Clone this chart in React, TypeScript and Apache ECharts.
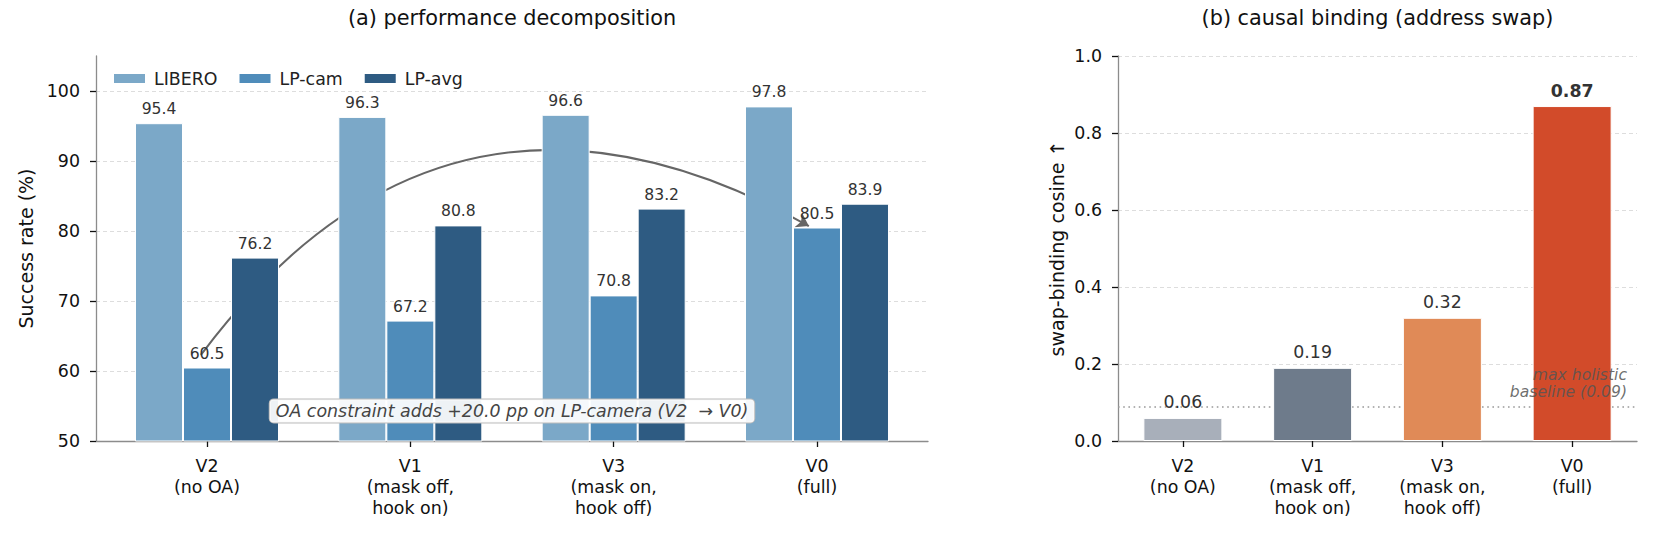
import { useEffect, useRef } from "react";
import * as echarts from "echarts";

// shared categories (same order in both panels)
const VARIANTS = ["V2\n(no OA)", "V1\n(mask off,\nhook on)", "V3\n(mask on,\nhook off)", "V0\n(full)"];
const VARIANT_POS = [0, 1, 2, 3];

// (a) success rate (%)
const LIBERO = [95.4, 96.3, 96.6, 97.8];
const LP_CAM = [60.5, 67.2, 70.8, 80.5];
const LP_AVG = [76.2, 80.8, 83.2, 83.9];
const SUCCESS_TICKS = [50, 60, 70, 80, 90, 100];

// (b) swap-binding cosine
const SWAP_COSINE = [0.06, 0.19, 0.32, 0.87];
const HOLISTIC_BASELINE = 0.09;

// annotation anchors, in panel (a) data units
const ARROW_FROM = [-0.03, 62.3];
const ARROW_TO = [2.96, 80.7];
const ARROW_CURVENESS = 0.437;
const NOTE_AT = [1.5, 54.3];
const NOTE_TEXT = "OA constraint adds +20.0 pp on LP-camera (V2\u00a0 \u2192 V0)";

const FONT = "DejaVu Sans";
const GRID_A = { left: 96, top: 56, width: 832, height: 385 };
const GRID_B = { left: 1118, top: 56, width: 519, height: 385 };
const GROUP_COLORS = ["#7BA8C8", "#4F8CBA", "#2E5B82"];
const CAUSAL_COLORS = ["#A8AFBA", "#6E7B8B", "#E08A57", "#D24B2A"];

const axisLine = { show: true, onZero: false, lineStyle: { color: "#8c8c8c", width: 1.3 } };
const tickLine = { color: "#111", width: 1.3 };
const splitLine = { show: true, lineStyle: { color: "#dddddd", type: [4, 3], width: 1 } };
const tickLabel = { fontSize: 17.4, color: "#111", fontFamily: FONT };
const axisName = { fontSize: 19, color: "#111", fontFamily: FONT };

function buildOption() {
  const groups: Array<[string, number[]]> = [
    ["LIBERO", LIBERO],
    ["LP-cam", LP_CAM],
    ["LP-avg", LP_AVG],
  ];
  const maxCos = Math.max(...SWAP_COSINE);

  return {
    animation: false,
    textStyle: { fontFamily: FONT },
    grid: [
      { ...GRID_A, containLabel: false },
      { ...GRID_B, containLabel: false },
    ],
    legend: {
      data: groups.map((g) => g[0]),
      left: 107,
      top: 65,
      icon: "rect",
      itemWidth: 33,
      itemHeight: 11,
      itemGap: 20,
      textStyle: { fontSize: 17.4, color: "#222", fontFamily: FONT, padding: [0, 0, 0, 3] },
    },
    xAxis: [
      {
        type: "value",
        gridIndex: 0,
        min: -0.546,
        max: 3.546,
        axisLine,
        axisTick: { show: true, length: 6, lineStyle: tickLine, customValues: VARIANT_POS },
        axisLabel: {
          ...tickLabel,
          lineHeight: 21,
          margin: 14,
          customValues: VARIANT_POS,
          formatter: (v: number) => VARIANTS[Math.round(v)] ?? "",
        },
        splitLine: { show: false },
      },
      {
        type: "category",
        gridIndex: 1,
        data: VARIANTS,
        axisLine,
        axisTick: { show: true, alignWithLabel: true, length: 6, lineStyle: tickLine },
        axisLabel: { ...tickLabel, lineHeight: 21, margin: 14, interval: 0 },
        splitLine: { show: false },
      },
    ],
    yAxis: [
      {
        type: "value",
        gridIndex: 0,
        min: 50,
        max: 105,
        name: "Success rate (%)",
        nameLocation: "middle",
        nameGap: 48,
        nameTextStyle: axisName,
        axisLine,
        axisTick: { show: true, length: 6, lineStyle: tickLine, customValues: SUCCESS_TICKS },
        axisLabel: { ...tickLabel, margin: 16, customValues: SUCCESS_TICKS },
        splitLine,
      },
      {
        type: "value",
        gridIndex: 1,
        min: 0,
        max: 1,
        interval: 0.2,
        name: "swap-binding cosine \u2191",
        nameLocation: "middle",
        nameGap: 52,
        nameTextStyle: axisName,
        axisLine,
        axisTick: { show: true, length: 6, lineStyle: tickLine },
        axisLabel: { ...tickLabel, margin: 16, formatter: (v: number) => v.toFixed(1) },
        splitLine,
      },
    ],
    series: [
      // curved arrow, drawn under the bars
      {
        type: "lines",
        coordinateSystem: "cartesian2d",
        xAxisIndex: 0,
        yAxisIndex: 0,
        z: 1,
        silent: true,
        symbol: ["none", "arrow"],
        symbolSize: [10, 12],
        lineStyle: { color: "#666", width: 2, opacity: 1, curveness: ARROW_CURVENESS },
        data: [{ coords: [ARROW_FROM, ARROW_TO] }],
      },
      ...groups.map(([name, values], k) => ({
        type: "bar",
        name,
        xAxisIndex: 0,
        yAxisIndex: 0,
        barWidth: 48,
        barGap: "0%",
        z: 3,
        data: values.map((v, i) => [VARIANT_POS[i], v]),
        itemStyle: { color: GROUP_COLORS[k], borderColor: "#fff", borderWidth: 1 },
        label: {
          show: true,
          position: "top",
          distance: 6,
          fontSize: 15.6,
          color: "#333",
          fontFamily: FONT,
          formatter: (p: { value: number[] }) => p.value[1].toFixed(1),
        },
      })),
      {
        type: "bar",
        xAxisIndex: 1,
        yAxisIndex: 1,
        barWidth: 79,
        z: 3,
        data: SWAP_COSINE.map((v, i) => ({
          value: v,
          itemStyle: { color: CAUSAL_COLORS[i], borderColor: "#fff", borderWidth: 1 },
          label: v === maxCos ? { fontWeight: "bold" } : undefined,
        })),
        label: {
          show: true,
          position: "top",
          distance: 7,
          fontSize: 17.4,
          color: "#333",
          fontFamily: FONT,
          formatter: (p: { value: number }) => p.value.toFixed(2),
        },
        markLine: {
          silent: true,
          z: 1,
          symbol: "none",
          label: { show: false },
          lineStyle: { type: [1.6, 3.6], color: "#999", width: 1.6 },
          data: [{ yAxis: HOLISTIC_BASELINE }],
        },
      },
    ],
  };
}

function buildGraphics(chart: echarts.ECharts) {
  const [nx, ny] = chart.convertToPixel({ gridIndex: 0 }, NOTE_AT) as number[];
  const baseY = chart.convertToPixel({ yAxisIndex: 1 }, HOLISTIC_BASELINE) as number;

  const title = (text: string, x: number) => ({
    type: "text",
    x,
    y: 18,
    style: {
      text,
      align: "center",
      verticalAlign: "middle",
      fontSize: 20.8,
      fontFamily: FONT,
      fill: "#111",
    },
  });

  return [
    title("(a) performance decomposition", GRID_A.left + GRID_A.width / 2),
    title("(b) causal binding (address swap)", GRID_B.left + GRID_B.width / 2),
    {
      type: "text",
      z: 10,
      x: nx,
      y: ny,
      style: {
        text: NOTE_TEXT,
        align: "center",
        verticalAlign: "middle",
        fontSize: 17.4,
        fontStyle: "italic",
        fontFamily: FONT,
        fill: "#444",
        backgroundColor: "rgba(255,255,255,0.92)",
        borderColor: "#bbb",
        borderWidth: 1,
        borderRadius: 4,
        padding: [3, 6, 3, 6],
      },
    },
    {
      type: "text",
      z: 10,
      x: GRID_B.left + GRID_B.width - 10,
      y: baseY - 6,
      style: {
        text: "max holistic\nbaseline (0.09)",
        align: "right",
        verticalAlign: "bottom",
        fontSize: 15.6,
        lineHeight: 17,
        fontStyle: "italic",
        fontFamily: FONT,
        fill: "rgba(85,85,85,0.85)",
      },
    },
  ];
}

export default function App() {
  const ref = useRef<HTMLDivElement | null>(null);

  useEffect(() => {
    const el = ref.current;
    if (el === null) return;
    const chart = echarts.init(el, null, { renderer: "svg" });
    chart.setOption(buildOption());
    chart.setOption({ graphic: buildGraphics(chart) });
    return () => chart.dispose();
  }, []);

  return (
    <div
      ref={ref}
      style={{ position: "absolute", left: 0, top: 0, width: 1655, height: 534, background: "#fff" }}
    />
  );
}
